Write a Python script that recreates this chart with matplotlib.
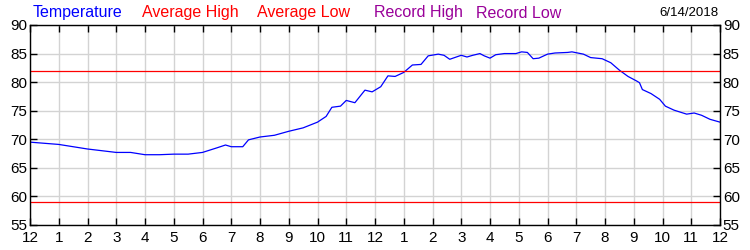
import numpy as np
import matplotlib.pyplot as plt

plt.rcParams['font.family'] = ['Liberation Sans', 'DejaVu Sans']

# temperature readings through the day (hour, deg F)
hours = [0, 0.5, 1, 1.5, 2, 2.5, 3, 3.5, 4, 4.5, 5, 5.5, 6, 6.5, 6.8, 7, 7.4,
         7.6, 8, 8.5, 9, 9.5, 10, 10.3, 10.5, 10.8, 11, 11.3, 11.65, 11.9,
         12.2, 12.45, 12.7, 13, 13.3, 13.6, 13.85, 14.2, 14.4, 14.6, 15,
         15.2, 15.4, 15.65, 15.8, 16, 16.2, 16.5, 16.9, 17.1, 17.3, 17.5,
         17.7, 18, 18.26, 18.7, 18.85, 19.25, 19.5, 19.9, 20.2, 20.5, 20.8,
         21.1, 21.2, 21.3, 21.6, 21.9, 22.1, 22.4, 22.84, 23.1, 23.36, 23.65, 24]
temps = [69.5, 69.3, 69.1, 68.7, 68.3, 68.0, 67.7, 67.7, 67.3, 67.3, 67.4, 67.4,
         67.7, 68.5, 69.0, 68.7, 68.7, 69.9, 70.4, 70.7, 71.4, 72.0, 73.0, 74.0,
         75.6, 75.8, 76.8, 76.4, 78.6, 78.3, 79.2, 81.1, 81.0, 81.7, 83.0, 83.1,
         84.6, 84.9, 84.7, 84.0, 84.7, 84.4, 84.7, 85.0, 84.6, 84.2, 84.8, 85.0,
         85.0, 85.3, 85.2, 84.1, 84.2, 84.9, 85.1, 85.2, 85.3, 84.9, 84.3, 84.1,
         83.4, 82.1, 81.0, 80.2, 79.9, 78.7, 78.0, 77.0, 75.8, 75.1, 74.4, 74.6,
         74.2, 73.5, 73.0]
avg_high = 82
avg_low = 59
date_label = "6/14/2018"
xlabels = ['12'] + [str(i) for i in range(1, 12)] + ['12'] + [str(i) for i in range(1, 12)] + ['12']

fig = plt.figure(figsize=(7.5, 2.5), dpi=100)
ax = fig.add_axes([0.04, 0.1, 0.92, 0.8])

ax.plot(hours, temps, color='#0000ff', lw=0.9)
ax.axhline(avg_high, color='#ff0000', lw=0.9)
ax.axhline(avg_low, color='#ff0000', lw=0.9)

ax.set_xlim(0, 24)
ax.set_ylim(55, 90)
ax.set_xticks(range(25))
ax.set_xticklabels(xlabels)
ax.set_yticks(range(55, 91, 5))
ax.grid(True, color='#d3d3d3', lw=1)
ax.set_axisbelow(True)
ax.tick_params(direction='in', length=5, width=1, labelsize=11,
               top=True, right=True, labelright=True)
ax.tick_params(axis='x', pad=4)
ax.tick_params(axis='y', pad=2)
for s in ax.spines.values():
    s.set_linewidth(1)

ty = 1 - 13/250
fig.text(33/750, ty, "Temperature", color='#0000ff', fontsize=11.5, va='center')
fig.text(142/750, ty, "Average High", color='#ff0000', fontsize=11.5, va='center')
fig.text(257/750, ty, "Average Low", color='#ff0000', fontsize=11.5, va='center')
fig.text(374/750, ty, "Record High", color='#990099', fontsize=11.5, va='center')
fig.text(476/750, ty, "Record Low", color='#990099', fontsize=11.5, va='center')
fig.text(718/750, ty, date_label, color='black', fontsize=9.5, va='center', ha='right')

fig.savefig('out.png', dpi=100)
